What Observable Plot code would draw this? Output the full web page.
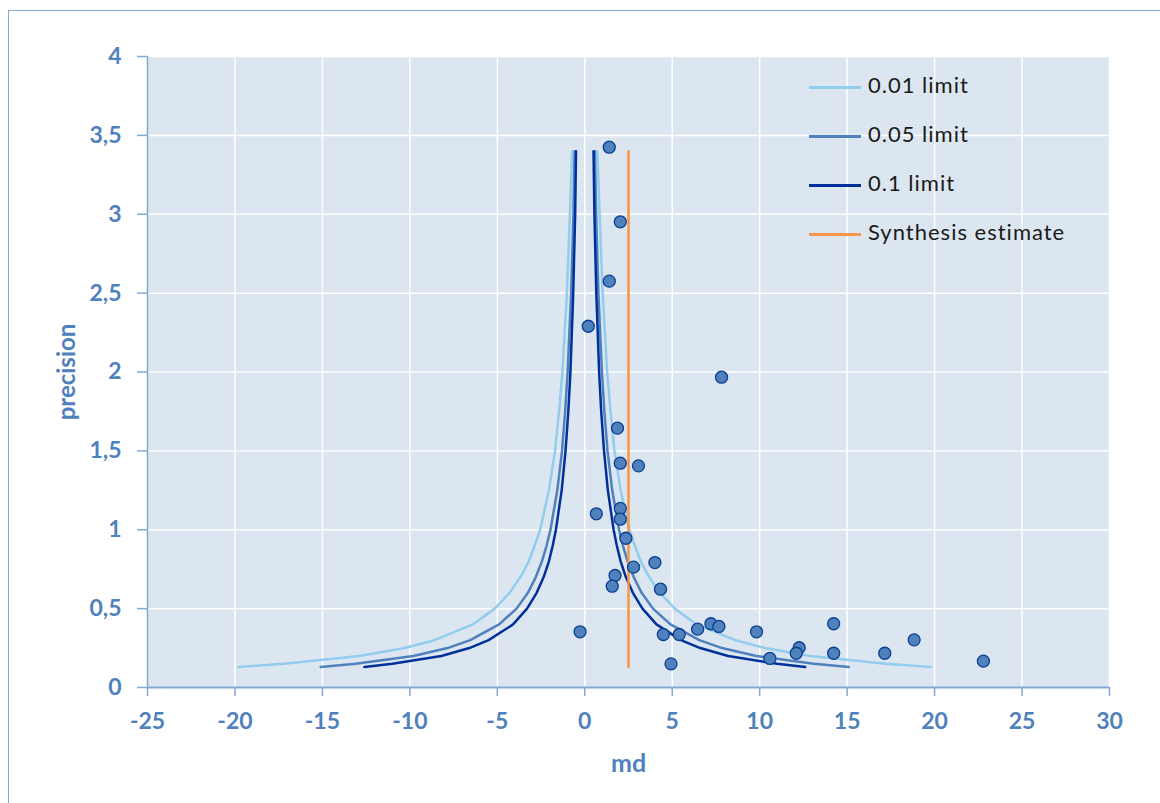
<!DOCTYPE html>
<html>
<head>
<meta charset="utf-8">
<script src="https://cdn.jsdelivr.net/npm/d3@7"></script>
<script src="https://cdn.jsdelivr.net/npm/@observablehq/plot@0.6"></script>
<style>
  html, body { margin: 0; padding: 0; background: #fff; }
  #wrap { position: relative; width: 1160px; height: 803px; overflow: hidden; }
  #frame { position: absolute; left: 8px; top: 10px; width: 1200px; height: 900px;
           border-left: 1.5px solid #84a8d4; border-top: 1.5px solid #84a8d4; box-sizing: border-box; }
  #chart { position: absolute; left: 0; top: 0; }
  #legend { position: absolute; left: 809px; top: 70px; font-family: Lato, "Open Sans", sans-serif;
            font-size: 22px; letter-spacing: 1px; color: #1a1a1a; }
  .item { position: relative; height: 49px; }
  .item .sw { position: absolute; left: 0; top: 16px; width: 52px; height: 2.5px; }
  .item .lb { position: absolute; left: 59px; top: 1px; white-space: nowrap; }
</style>
</head>
<body>
<div id="wrap">
  <div id="frame"></div>
  <div id="chart"></div>
  <div id="legend"></div>
</div>
<script>
// ---- Data ----
const seriesNames = ["0.01 limit", "0.05 limit", "0.1 limit", "Synthesis estimate"];
const seriesColors = ["#92cdee", "#4f81bd", "#00309a", "#f79646"];

// precision values of the funnel-limit vertices
const limitPrecision = [0.13, 0.15, 0.2, 0.25, 0.3, 0.4, 0.5, 0.6, 0.7, 0.8, 0.9, 1, 1.25, 1.5, 1.75, 2, 2.5, 3, 3.4];
// absolute md offset of each limit at those precisions (left branch negative, right branch positive)
const limit01 = [19.8, 17.2, 12.9, 10.3, 8.6, 6.4, 5.15, 4.3, 3.68, 3.2, 2.86, 2.55, 2.05, 1.7, 1.47, 1.28, 1.02, 0.85, 0.72];
const limit05 = [15.1, 13.1, 9.8, 7.85, 6.55, 4.9, 3.9, 3.25, 2.8, 2.45, 2.18, 1.96, 1.57, 1.3, 1.12, 0.98, 0.78, 0.65, 0.58];
const limit10 = [12.6, 11.0, 8.2, 6.6, 5.5, 4.1, 3.3, 2.75, 2.35, 2.05, 1.83, 1.65, 1.32, 1.1, 0.94, 0.82, 0.66, 0.55, 0.5];

// synthesis estimate (vertical line)
const synthesisMd = 2.5;
const synthesisPrecision = [0.13, 3.4];

// studies
const studyMd = [1.40, 2.03, 1.40, 0.20, 7.82, 1.87, 2.03, 3.07, 0.66, 2.03, 2.03, 2.35, 2.79, 4.01, 1.73, 1.57, 4.33,
                 -0.27, 4.49, 5.40, 4.93, 6.45, 7.21, 7.67, 9.82, 10.58, 12.26, 12.09, 14.23, 14.23, 17.15, 18.83, 22.79];
const studyPrecision = [3.425, 2.952, 2.576, 2.290, 1.967, 1.644, 1.422, 1.405, 1.101, 1.135, 1.067, 0.946, 0.763, 0.792, 0.710, 0.642, 0.623,
                 0.353, 0.336, 0.336, 0.150, 0.370, 0.404, 0.387, 0.353, 0.184, 0.252, 0.217, 0.404, 0.217, 0.217, 0.302, 0.167];

const xTicks = [-25, -20, -15, -10, -5, 0, 5, 10, 15, 20, 25, 30];
const yTicks = [0, 0.5, 1, 1.5, 2, 2.5, 3, 3.5, 4];

// ---- Build tables ----
const limitRows = [];
[limit01, limit05, limit10].forEach((arr, k) => {
  ["L", "R"].forEach(side => {
    arr.forEach((v, i) => {
      limitRows.push({series: seriesNames[k], key: seriesNames[k] + side,
        md: side === "L" ? -v : v, precision: limitPrecision[i]});
    });
  });
});
const synthRows = synthesisPrecision.map(p => ({md: synthesisMd, precision: p}));
const studies = studyMd.map((m, i) => ({md: m, precision: studyPrecision[i]}));

const axisColor = "#84a8d4";
const labelColor = "#4f81bd";
const fmt = d => String(d).replace(".", ",");

const chart = Plot.plot({
  width: 1160,
  height: 803,
  marginLeft: 147,
  marginRight: 51,
  marginTop: 56,
  marginBottom: 116,
  style: {fontFamily: "Lato, 'Open Sans', sans-serif", background: "transparent", overflow: "visible"},
  x: {domain: [-25, 30], ticks: xTicks},
  y: {domain: [0, 4], ticks: yTicks},
  marks: [
    Plot.frame({fill: "#dce6f0", stroke: null}),
    Plot.gridX(xTicks.filter(t => t !== -25), {stroke: "#ffffff", strokeOpacity: 1, strokeWidth: 1.5}),
    Plot.gridY(yTicks.filter(t => t !== 0), {stroke: "#ffffff", strokeOpacity: 1, strokeWidth: 1.5}),
    Plot.ruleX([-25], {stroke: axisColor, strokeWidth: 1.5}),
    Plot.ruleY([0], {stroke: axisColor, strokeWidth: 2}),
    Plot.axisX(xTicks, {tickSize: 9, tickPadding: 16, stroke: axisColor, strokeWidth: 1.5, fill: labelColor,
      fontSize: 23, fontWeight: "bold", tickFormat: d => String(d), label: null}),
    Plot.axisY(yTicks, {tickSize: 10, tickPadding: 16, stroke: axisColor, strokeWidth: 1.5, fill: labelColor,
      fontSize: 23, fontWeight: "bold", tickFormat: fmt, label: null}),
    Plot.line(limitRows, {x: "md", y: "precision", z: "key",
      stroke: d => seriesColors[seriesNames.indexOf(d.series)], strokeWidth: 2.5, curve: "linear"}),
    Plot.line(synthRows, {x: "md", y: "precision", stroke: seriesColors[3], strokeWidth: 2.5}),
    Plot.dot(studies, {x: "md", y: "precision", r: 6, fill: "#4f81bd", stroke: "#0b3f92", strokeWidth: 1.3}),
    Plot.text(["md"], {frameAnchor: "bottom", dy: 84, fill: labelColor, fontSize: 25, fontWeight: "bold"}),
    Plot.text(["precision"], {frameAnchor: "left", textAnchor: "middle", dx: -80, rotate: -90,
      fill: labelColor, fontSize: 24, fontWeight: "bold"})
  ]
});
document.getElementById("chart").appendChild(chart);

// ---- Legend ----
const legend = document.getElementById("legend");
seriesNames.forEach((name, i) => {
  const item = document.createElement("div");
  item.className = "item";
  const sw = document.createElement("div");
  sw.className = "sw";
  sw.style.background = seriesColors[i];
  const lb = document.createElement("div");
  lb.className = "lb";
  lb.textContent = name;
  item.appendChild(sw);
  item.appendChild(lb);
  legend.appendChild(item);
});
</script>
</body>
</html>
